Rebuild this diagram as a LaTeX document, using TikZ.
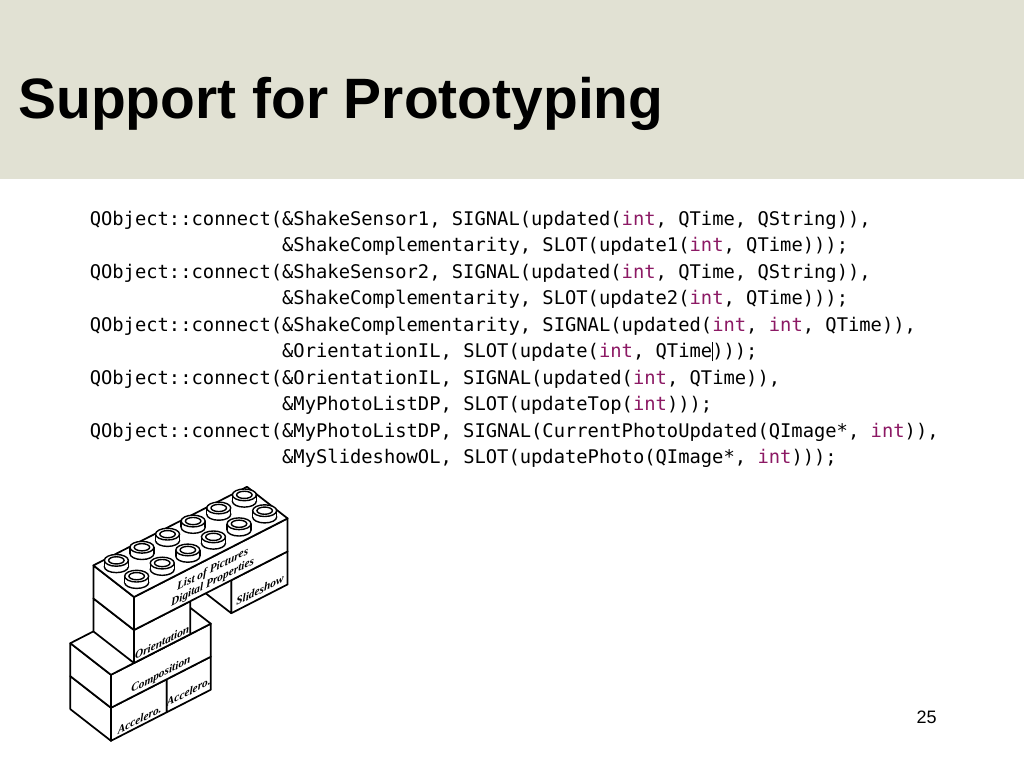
\documentclass[tikz,border=0pt]{standalone}
\usepackage{fontspec}
\setmainfont{Liberation Sans}
\newfontfamily\codefont{DejaVu Sans Mono}
\newfontfamily\brickfont{Liberation Serif}
\definecolor{headbg}{RGB}{225,225,211}
\definecolor{intpurple}{RGB}{140,25,100}
\newcommand{\tyint}{\textcolor{intpurple}{int}}
\newcommand{\txcursor}{\makebox[0pt]{\rule[-0.2em]{0.7pt}{1.05em}}}
\tikzset{
  codeline/.style={anchor=base west,inner sep=0pt,font=\codefont\frenchspacing\fontsize{14.1pt}{17pt}\selectfont},
  brickface/.style={fill=white,draw=black,line width=1.3pt,line join=round},
  studline/.style={fill=white,draw=black,line width=1.05pt},
  bricklabel/.style={yslant=0.512,inner sep=0pt,align=center,font=\brickfont\bfseries\itshape\fontsize{8.5pt}{9.6pt}\selectfont}
}
% one stud on top of the big brick, #1 = X, #2 = Y
\newcommand{\legostud}[2]{%
  \coordinate (sb) at (#1,#2,1);
  \filldraw[studline] (sb) ellipse[x radius=9pt,y radius=4.4pt];
  \fill[white] ([xshift=-9pt]sb) rectangle ([xshift=9pt,yshift=4.8pt]sb);
  \draw[studline] ([xshift=-9pt]sb) -- ++(0pt,4.8pt) ([xshift=9pt]sb) -- ++(0pt,4.8pt);
  \filldraw[studline] ([yshift=4.8pt]sb) ellipse[x radius=9pt,y radius=4.4pt];
  \draw[studline] ([yshift=4.8pt]sb) ellipse[x radius=5.8pt,y radius=2.7pt];
}
\begin{document}
\begin{tikzpicture}[x=0.75pt,y=-0.75pt]
\useasboundingbox (0,0) rectangle (1024,768);
\fill[white] (0,0) rectangle (1024,768);
% title band
\fill[headbg] (0,0) rectangle (1024,179);
\node[anchor=base west,inner sep=0pt,font=\bfseries\fontsize{42.7pt}{50pt}\selectfont] (title) at (18,118) {Support for Prototyping};
% code
\node[codeline] (code1) at (89.5,225) {QObject::connect(\&ShakeSensor1, SIGNAL(updated(\tyint, QTime, QString)),};
\node[codeline] (code2) at (281.9,251.5) {\&ShakeComplementarity, SLOT(update1(\tyint, QTime)));};
\node[codeline] (code3) at (89.5,278) {QObject::connect(\&ShakeSensor2, SIGNAL(updated(\tyint, QTime, QString)),};
\node[codeline] (code4) at (281.9,304.5) {\&ShakeComplementarity, SLOT(update2(\tyint, QTime)));};
\node[codeline] (code5) at (89.5,331) {QObject::connect(\&ShakeComplementarity, SIGNAL(updated(\tyint, \tyint, QTime)),};
\node[codeline] (code6) at (281.9,357.5) {\&OrientationIL, SLOT(update(\tyint, QTime\txcursor)));};
\node[codeline] (code7) at (89.5,384) {QObject::connect(\&OrientationIL, SIGNAL(updated(\tyint, QTime)),};
\node[codeline] (code8) at (281.9,410.5) {\&MyPhotoListDP, SLOT(updateTop(\tyint)));};
\node[codeline] (code9) at (89.5,437) {QObject::connect(\&MyPhotoListDP, SIGNAL(CurrentPhotoUpdated(QImage*, \tyint)),};
\node[codeline] (code10) at (281.9,463.5) {\&MySlideshowOL, SLOT(updatePhoto(QImage*, \tyint)));};
% bricks, X along the long side, Y into depth, Z up
\begin{scope}[shift={(134,630)},x={(19.2pt,9.825pt)},y={(-15.225pt,11.85pt)},z={(0pt,24.75pt)}]
  % accelerometers
  \draw[brickface] (-0.9,0,-3) -- (1.28,0,-3) -- (1.28,0,-2) -- (-0.9,0,-2) -- cycle;
  \draw[brickface] (-0.9,0,-3) -- (-0.9,2,-3) -- (-0.9,2,-2) -- (-0.9,0,-2) -- cycle;
  \draw[brickface] (1.28,0,-3) -- (3,0,-3) -- (3,0,-2) -- (1.28,0,-2) -- cycle;
  % composition
  \draw[brickface] (-0.9,0,-2) -- (3,0,-2) -- (3,0,-1) -- (-0.9,0,-1) -- cycle;
  \draw[brickface] (-0.9,0,-2) -- (-0.9,2,-2) -- (-0.9,2,-1) -- (-0.9,0,-1) -- cycle;
  \draw[brickface] (-0.9,0,-1) -- (3,0,-1) -- (3,2,-1) -- (-0.9,2,-1) -- cycle;
  % slideshow
  \draw[brickface] (3.8,0,-1) -- (6,0,-1) -- (6,0,0) -- (3.8,0,0) -- cycle;
  \draw[brickface] (3.8,0,-1) -- (3.8,2,-1) -- (3.8,2,0) -- (3.8,0,0) -- cycle;
  % orientation
  \draw[brickface] (0,0,-1) -- (2.2,0,-1) -- (2.2,0,0) -- (0,0,0) -- cycle;
  \draw[brickface] (0,0,-1) -- (0,2,-1) -- (0,2,0) -- (0,0,0) -- cycle;
  % list of pictures
  \draw[brickface] (0,0,0) -- (6,0,0) -- (6,0,1) -- (0,0,1) -- cycle;
  \draw[brickface] (0,0,0) -- (0,2,0) -- (0,2,1) -- (0,0,1) -- cycle;
  \draw[brickface] (0,0,1) -- (6,0,1) -- (6,2,1) -- (0,2,1) -- cycle;
  \foreach \j in {1,0}
    \foreach \i in {5,4,...,0}
      {\legostud{\i+0.5}{\j+0.5}}
  % labels
  \node[bricklabel] (lbllist) at (3.07,0,0.42) {List of Pictures\\Digital Properties};
  \node[bricklabel] (lblslide) at (4.92,0,-0.74) {Slideshow};
  \node[bricklabel] (lblorient) at (1.1,0,-0.8) {Orientation};
  \node[bricklabel] (lblcomp) at (1.05,0,-1.78) {Composition};
  \node[bricklabel] (lblaccl) at (0.22,0,-2.79) {Accelero.};
  \node[bricklabel] (lblaccr) at (2.14,0,-2.72) {Accelero.};
\end{scope}
% page number
\node[anchor=base east,inner sep=0pt,font=\fontsize{13.5pt}{16pt}\selectfont] (pagenum) at (937,723) {25};
\end{tikzpicture}
\end{document}
